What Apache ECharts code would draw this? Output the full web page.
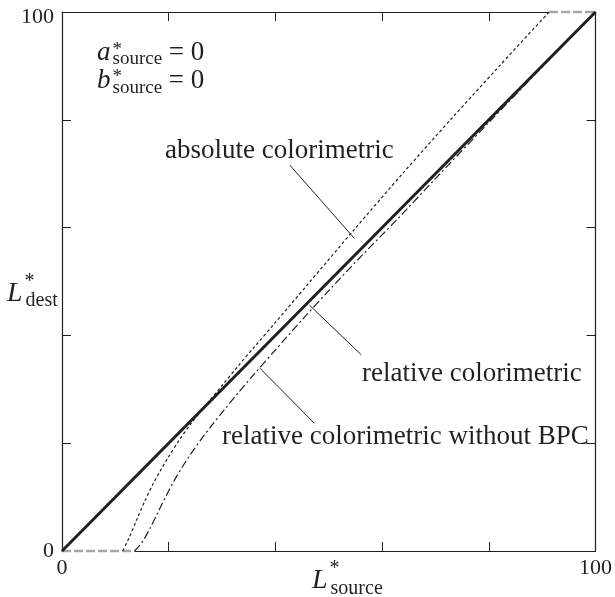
<!DOCTYPE html>
<html>
<head>
<meta charset="utf-8">
<script src="https://cdn.jsdelivr.net/npm/echarts@6.0.0/dist/echarts.min.js"></script>
<style>
  html, body { margin: 0; padding: 0; background: #fff; }
  #chart { width: 615px; height: 597px; }
</style>
</head>
<body>
<div id="chart"></div>
<script>
// axis range and which tick values get a label
const axisMin = 0;
const axisMax = 100;
const tickStep = 20;
const shownTicks = [0, 100];

// L*source -> L*dest curves
const relative = [[0, 0], [100, 100]];
const absolute = [
  [11.4, 0], [12.6, 2.5], [14, 5.8], [15.5, 9.2], [17, 12.3], [18.5, 15.0],
  [20, 17.5], [22, 20.6], [24, 23.4], [26, 25.9], [28, 28.3], [30, 30.7],
  [33, 34.3], [36, 37.8], [40, 42.4], [46, 49.4], [55, 59.9], [64, 70.2],
  [73, 80.2], [82, 90], [91.3, 100]
];
const relativeNoBpc = [
  [13.6, 0], [15, 1.6], [16.5, 4.2], [18, 7.2], [19.5, 10.2], [21, 13.0],
  [22.5, 15.5], [24, 17.8], [26, 20.6], [28, 23.2], [30.5, 26.3], [33, 29.3],
  [36, 32.8], [40, 37.3], [45, 42.9], [50, 48.3], [56, 54.6], [63, 61.7],
  [70, 69.1], [80, 79.5], [90, 89.8], [100, 100]
];
// clipped parts (drawn grey)
const clipLow = [[0, 0], [13.6, 0]];
const clipHigh = [[91.3, 100], [100, 100]];

// leader lines from the labels to the curves
const leaderAbs = [[42.7, 71.6], [54.8, 58.0]];
const leaderRel = [[46.4, 45.6], [56.1, 36.4]];
const leaderNoBpc = [[37.1, 33.9], [47.3, 23.7]];

const serif = '"Liberation Serif", "Times New Roman", serif';
const ink = '#231f20';

const chart = echarts.init(document.getElementById('chart'));

// measure text so super/subscripts can be stacked after the main letter
const ctx = document.createElement('canvas').getContext('2d');
function textWidth(t, font) {
  ctx.font = font;
  return ctx.measureText(t).width;
}
function txt(x, baseline, text, size, italic) {
  const font = (italic ? 'italic ' : '') + size + 'px ' + serif;
  return {
    type: 'text',
    x: x,
    y: baseline - 0.32 * size,
    style: {
      text: text,
      font: font,
      fill: ink,
      align: 'left',
      verticalAlign: 'middle'
    }
  };
}
// main italic letter + "*" + subscript + rest
function scripted(o) {
  const w = textWidth(o.main, 'italic ' + o.size + 'px ' + serif);
  const subW = textWidth(o.sub, o.subSize + 'px ' + serif);
  const els = [
    txt(o.x, o.y, o.main, o.size, true),
    txt(o.x + w + o.supDx, o.y + o.supDy, '*', o.subSize, false),
    txt(o.x + w + o.subDx, o.y + o.subDy, o.sub, o.subSize, false)
  ];
  if (o.rest) {
    els.push(txt(o.x + w + o.subDx + subW, o.y, o.rest, o.size, false));
  }
  return els;
}

function leader(pair) {
  return [{ coord: pair[0] }, { coord: pair[1] }];
}

// top "100" sits a little below the axis end in the original
const tickLabel = (v) => {
  if (shownTicks.indexOf(v) < 0) return '';
  return v === axisMax ? '{top|' + v + '}' : String(v);
};

const axisCommon = {
  type: 'value',
  min: axisMin,
  max: axisMax,
  interval: tickStep,
  splitLine: { show: false },
  axisLine: { show: true, onZero: false, lineStyle: { color: ink, width: 1.2 } },
  axisTick: { show: true, inside: true, length: 9, lineStyle: { color: ink, width: 1 } }
};

chart.setOption({
  animation: false,
  backgroundColor: '#fff',
  grid: { left: 62, right: 15, top: 12, bottom: 46 },
  xAxis: [
    Object.assign({}, axisCommon, {
      position: 'bottom',
      axisLabel: {
        formatter: (v) => (shownTicks.indexOf(v) >= 0 ? String(v) : ''),
        margin: 6, color: ink, fontFamily: serif, fontSize: 22
      }
    }),
    Object.assign({}, axisCommon, { position: 'top', axisLabel: { show: false } })
  ],
  yAxis: [
    Object.assign({}, axisCommon, {
      position: 'left',
      axisLabel: {
        formatter: tickLabel, margin: 8, color: ink,
        fontFamily: serif, fontSize: 22,
        rich: {
          top: { fontFamily: serif, fontSize: 22, color: ink, padding: [11, 0, 0, 0] }
        }
      }
    }),
    Object.assign({}, axisCommon, { position: 'right', axisLabel: { show: false } })
  ],
  series: [
    {
      name: 'clipLowBase', type: 'line', data: clipLow, symbol: 'none', clip: false,
      lineStyle: { color: '#fff', width: 2.5 }, z: 3
    },
    {
      name: 'clipHighBase', type: 'line', data: clipHigh, symbol: 'none', clip: false,
      lineStyle: { color: '#fff', width: 2.5 }, z: 3
    },
    {
      name: 'clipLow', type: 'line', data: clipLow, symbol: 'none', clip: false,
      lineStyle: { color: '#a7a7a7', width: 2.5, type: [9, 3] }, z: 4
    },
    {
      name: 'clipHigh', type: 'line', data: clipHigh, symbol: 'none', clip: false,
      lineStyle: { color: '#a7a7a7', width: 2.5, type: [9, 3] }, z: 4
    },
    {
      name: 'absolute colorimetric', type: 'line', data: absolute, symbol: 'none',
      smooth: 0.3, clip: false,
      lineStyle: { color: ink, width: 1.2, type: [3, 2.5] }, z: 5,
      markLine: {
        silent: true, symbol: 'none', label: { show: false },
        lineStyle: { color: ink, width: 1, type: 'solid' },
        data: [leader(leaderAbs)]
      }
    },
    {
      name: 'relative colorimetric without BPC', type: 'line', data: relativeNoBpc,
      symbol: 'none', smooth: 0.3, clip: false,
      lineStyle: { color: ink, width: 1.2, type: [8, 3, 2, 3] }, z: 5,
      markLine: {
        silent: true, symbol: 'none', label: { show: false },
        lineStyle: { color: ink, width: 1, type: 'solid' },
        data: [leader(leaderNoBpc)]
      }
    },
    {
      name: 'relative colorimetric', type: 'line', data: relative, symbol: 'none',
      clip: false,
      lineStyle: { color: ink, width: 3 }, z: 6,
      markLine: {
        silent: true, symbol: 'none', label: { show: false },
        lineStyle: { color: ink, width: 1, type: 'solid' },
        data: [leader(leaderRel)]
      }
    }
  ],
  graphic: [].concat(
    scripted({ x: 97, y: 62, main: 'a', sub: 'source', rest: ' = 0', size: 27, subSize: 19,
      supDx: 2, supDy: -6, subDx: 2, subDy: 3 }),
    scripted({ x: 97, y: 90, main: 'b', sub: 'source', rest: ' = 0', size: 27, subSize: 19,
      supDx: 2, supDy: -7, subDx: 2, subDy: 4 }),
    scripted({ x: 7, y: 303, main: 'L', sub: 'dest', rest: '', size: 28, subSize: 20,
      supDx: 2, supDy: -15, subDx: 3, subDy: 4 }),
    scripted({ x: 312, y: 590, main: 'L', sub: 'source', rest: '', size: 28, subSize: 20,
      supDx: 2, supDy: -15, subDx: 3, subDy: 5 }),
    [
      txt(165, 160, 'absolute colorimetric', 27, false),
      txt(362, 383, 'relative colorimetric', 27, false),
      txt(222, 446, 'relative colorimetric without BPC', 27, false)
    ]
  )
});
</script>
</body>
</html>
